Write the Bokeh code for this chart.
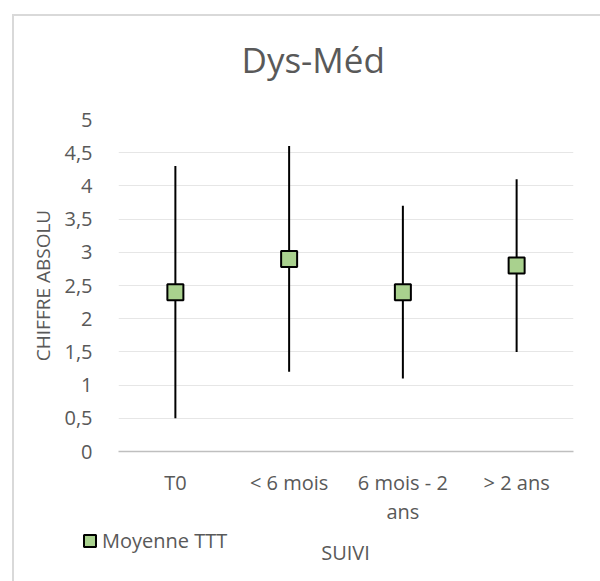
from bokeh.plotting import figure
from bokeh.layouts import column
from bokeh.models import (Range1d, SingleIntervalTicker, Legend, LegendItem,
                          ColumnDataSource, Title, Label)
from bokeh.embed import file_html
from bokeh.resources import INLINE

# ---- data ----
categories = ["T0", "< 6 mois", "6 mois - 2\nans", "> 2 ans"]
means = [2.4, 2.9, 2.4, 2.8]
lows = [0.5, 1.2, 1.1, 1.5]
highs = [4.3, 4.6, 3.7, 4.1]
y_ticks = [0, 0.5, 1, 1.5, 2, 2.5, 3, 3.5, 4, 4.5, 5]
y_tick_labels = ["0", "0,5", "1", "1,5", "2", "2,5", "3", "3,5", "4", "4,5", "5"]
title_text = "Dys-Méd"
series_name = "Moyenne TTT"
x_title = "SUIVI"
y_title = "CHIFFRE ABSOLU"

FONT = "Open Sans"
TXT = "#595959"
BORDER = "#D9D9D9"
FILL = "#A9D18E"

src = ColumnDataSource(dict(cat=categories, mean=means, low=lows, high=highs))

# ---------------- main chart ----------------
p = figure(x_range=categories, y_range=Range1d(0, 5), width=600, height=528,
           output_backend="svg", toolbar_location=None, title=None,
           min_border_left=118, min_border_right=27, min_border_top=119, min_border_bottom=76)
p.background_fill_color = "white"
p.border_fill_color = None
p.outline_line_color = None

p.add_layout(Title(text=title_text, align="left", offset=123, vertical_align="top",
                   standoff=70, text_font=FONT, text_font_size="35px",
                   text_font_style="normal", text_color=TXT), "above")

p.xgrid.grid_line_color = None
p.ygrid.grid_line_color = "#E6E6E6"
p.ygrid.grid_line_width = 1

p.yaxis.ticker = SingleIntervalTicker(interval=0.5)
p.yaxis.major_label_overrides = {t: l for t, l in zip(y_ticks, y_tick_labels)}
p.yaxis.axis_line_color = None
p.yaxis.major_tick_line_color = None
p.yaxis.minor_tick_line_color = None
p.yaxis.major_tick_out = 0
p.yaxis.major_label_standoff = 22
p.yaxis.major_label_text_font = FONT
p.yaxis.major_label_text_font_size = "20px"
p.yaxis.major_label_text_color = TXT
p.yaxis.axis_label = y_title
p.yaxis.axis_label_text_font = FONT
p.yaxis.axis_label_text_font_size = "19px"
p.yaxis.axis_label_text_font_style = "normal"
p.yaxis.axis_label_text_color = TXT
p.yaxis.axis_label_standoff = 5

p.xaxis.axis_line_color = "#BFBFBF"
p.xaxis.axis_line_width = 1.3
p.xaxis.major_tick_line_color = None
p.xaxis.minor_tick_line_color = None
p.xaxis.major_tick_out = 0
p.xaxis.major_label_standoff = 17
p.xaxis.major_label_text_font = FONT
p.xaxis.major_label_text_font_size = "20px"
p.xaxis.major_label_text_line_height = 1.1
p.xaxis.major_label_text_color = TXT

p.segment(x0="cat", y0="low", x1="cat", y1="high", source=src,
          line_color="black", line_width=2)
r = p.rect(x="cat", y="mean", width=16, height=16, width_units="screen",
           height_units="screen", source=src,
           fill_color=FILL, line_color="black", line_width=2)

# ---------------- bottom strip: legend + x-axis title ----------------
lf = figure(width=600, height=53, x_range=categories, y_range=Range1d(10, 11),
            output_backend="svg", toolbar_location=None,
            min_border_left=0, min_border_right=0, min_border_top=0, min_border_bottom=0)
try:
    lf.frame_align = False
except AttributeError:
    pass
lf.axis.visible = False
lf.grid.visible = False
lf.outline_line_color = None
lf.background_fill_color = None
lf.border_fill_color = None
# same series, out of this strip's view: only its legend entry is shown
proxy = lf.rect(x="cat", y="mean", width=16, height=16, width_units="screen",
                height_units="screen", source=src,
                fill_color=FILL, line_color="black", line_width=2)
legend = Legend(items=[LegendItem(label=series_name, renderers=[proxy])],
                location=(82, 27), orientation="horizontal",
                glyph_width=15, glyph_height=15, label_standoff=5,
                padding=0, margin=0, border_line_color=None,
                background_fill_alpha=0,
                label_text_font=FONT, label_text_font_size="20px",
                label_text_color=TXT)
lf.add_layout(legend, "center")
lf.add_layout(Label(x=345, y=29, x_units="screen", y_units="screen", text=x_title,
                    text_font=FONT, text_font_size="20px", text_color=TXT,
                    text_align="center", text_baseline="alphabetic"))

layout = column(p, lf, spacing=0)
layout.styles = {
    "background": (f"linear-gradient({BORDER},{BORDER}) 12px 14px / 2px calc(100% - 14px) no-repeat, "
                   f"linear-gradient({BORDER},{BORDER}) 12px 14px / calc(100% - 12px) 2px no-repeat, white"),
}

open("out.html", "w").write(file_html(layout, INLINE))
